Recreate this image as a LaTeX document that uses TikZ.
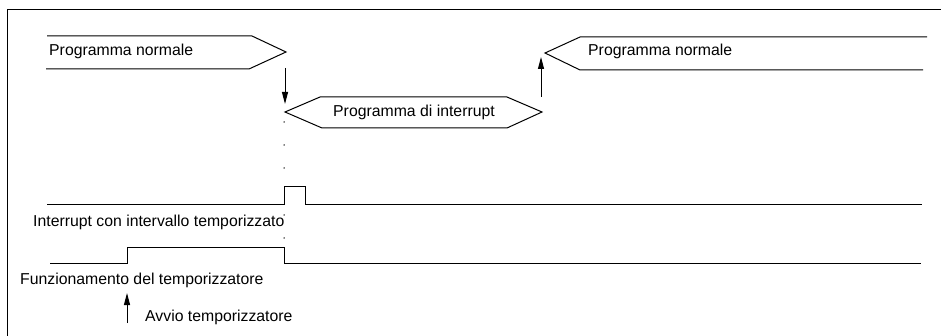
\documentclass[tikz,border=0pt]{standalone}
\usepackage{fontspec}
\setmainfont{Liberation Sans}
\usetikzlibrary{arrows.meta}
\begin{document}
\begin{tikzpicture}[x=1pt,y=-1pt,
  line/.style={line width=1pt,line join=miter},
  lbl/.style={anchor=base west,inner sep=0pt,font=\fontsize{15.8}{18}\selectfont},
  arr/.style={line width=1pt,-{Triangle[length=12pt,width=6pt]}},
  dotmark/.style={circle,fill=black,inner sep=0pt,minimum size=1.5pt}]
\useasboundingbox (0,0) rectangle (941,336);
% frame
\draw[line] (941,10) -- (7,10) -- (7,336);
% top-left program
\draw[line] (47,36) -- (252,36) -- (286,52) -- (249,69) -- (46,69);
\node[lbl] (pn1) at (49,56) {Programma normale};
% interrupt program
\draw[line] (507,97) -- (320,97) -- (285,112) -- (322,128) -- (507,128) -- (542,112) -- cycle;
\node[lbl] (pi) at (333,117) {Programma di interrupt};
% right program
\draw[line] (927,37) -- (580,37) -- (545,53) -- (580,70) -- (923,70);
\node[lbl] (pn2) at (588,56) {Programma normale};
% arrows
\coordinate (a1s) at (285,68); \coordinate (a1e) at (285,104);
\draw[arr] (a1s) -- (a1e);
\coordinate (a2s) at (541,97); \coordinate (a2e) at (541,57);
\draw[arr] (a2s) -- (a2e);
\coordinate (a3s) at (127,323); \coordinate (a3e) at (127,293);
\draw[arr] (a3s) -- (a3e);
% dots
\foreach \yy/\nm in {122/d1,145/d2,168/d3,215/d4,238/d5}
  \node[dotmark] (\nm) at (284,\yy) {};
% interrupt pulse
\draw[line] (47,205) -- (284,205) -- (284,187) -- (305,187) -- (305,205) -- (922,205);
\node[lbl] (ti) at (33,227) {Interrupt con intervallo temporizzato};
% timer signal
\draw[line] (50,264) -- (127,264) -- (127,248) -- (284,248) -- (284,264) -- (921,264);
\node[lbl] (tf) at (20,284) {Funzionamento del temporizzatore};
\node[lbl] (ta) at (145,321) {Avvio temporizzatore};
\end{tikzpicture}
\end{document}
